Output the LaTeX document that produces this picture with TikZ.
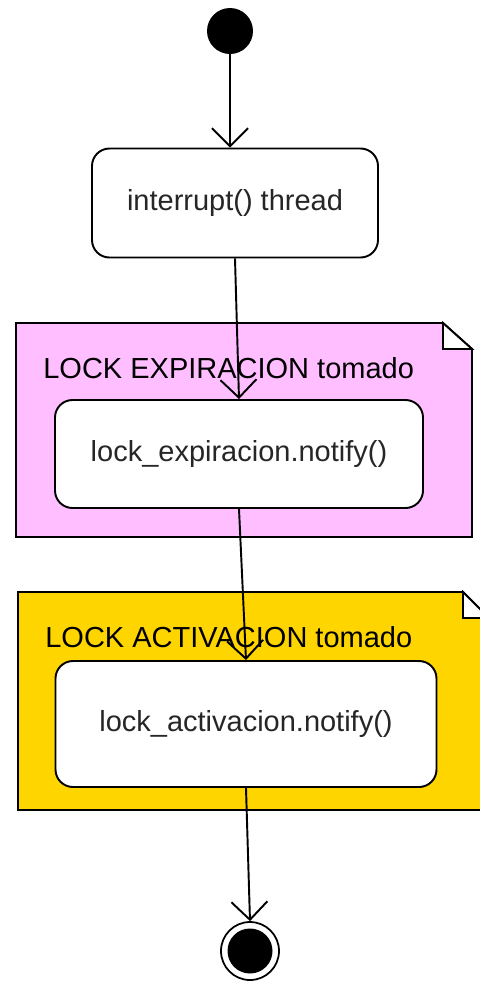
\documentclass[tikz,border=0pt]{standalone}
\usepackage{fontspec}
\setmainfont{Liberation Sans}
\usetikzlibrary{arrows.meta,positioning}
\definecolor{notepink}{HTML}{FFBEFF}
\definecolor{notegold}{HTML}{FFD500}

\begin{document}
\begin{tikzpicture}[x=0.2mm, y=-0.2mm,
  font=\fontsize{16.5pt}{20pt}\selectfont,
  actbox/.style={draw, fill=white, rounded corners=3.5mm, line width=1.1pt,
    inner sep=0pt, text=black!85},
  flow/.style={line width=1.1pt, -{Straight Barb[length=3.6mm,width=7.2mm]}},
  notebg/.style={draw, line width=1.1pt}]
\useasboundingbox (0,0) rectangle (480,982);
% lock regions (notes with folded corner)
\draw[notebg, fill=notepink] (16,323) -- (443,323) -- (472,349) -- (472,537) -- (16,537) -- cycle;
\draw[notebg, fill=white] (443,323) -- (443,349) -- (472,349) -- cycle;
\node[anchor=west, inner sep=0pt] (lockexp) at (43,368) {LOCK EXPIRACION tomado};
\draw[notebg, fill=notegold] (18,592) -- (463,592) -- (489,618) -- (489,810) -- (18,810) -- cycle;
\draw[notebg, fill=white] (463,592) -- (463,618) -- (489,618) -- cycle;
\node[anchor=west, inner sep=0pt] (lockact) at (45,637) {LOCK ACTIVACION tomado};
% initial / final states
\node[circle, fill, inner sep=0pt, minimum size=9.2mm] (start) at (230,31) {};
\node[circle, draw, line width=1pt, fill=white, inner sep=0pt, minimum size=11.6mm] (stop) at (250,951) {};
\node[circle, fill, inner sep=0pt, minimum size=9mm] (stopdot) at (stop) {};
% actions
\node[actbox, minimum width=57.2mm, minimum height=21.8mm] (interrupt) at (235,203) {interrupt() thread};
\node[actbox, minimum width=73.6mm, minimum height=21.6mm] (notifyexp) at (239,454) {lock\_expiracion.notify()};
\node[actbox, minimum width=76.2mm, minimum height=25.2mm] (notifyact) at (246,724) {lock\_activacion.notify()};
% transitions
\draw[flow] (start) -- (start |- interrupt.north);
\draw[flow] (interrupt.south) -- (notifyexp.north);
\draw[flow] (notifyexp.south) -- (notifyact.north);
\draw[flow] (notifyact.south) -- (stop.north);
\end{tikzpicture}
\end{document}
